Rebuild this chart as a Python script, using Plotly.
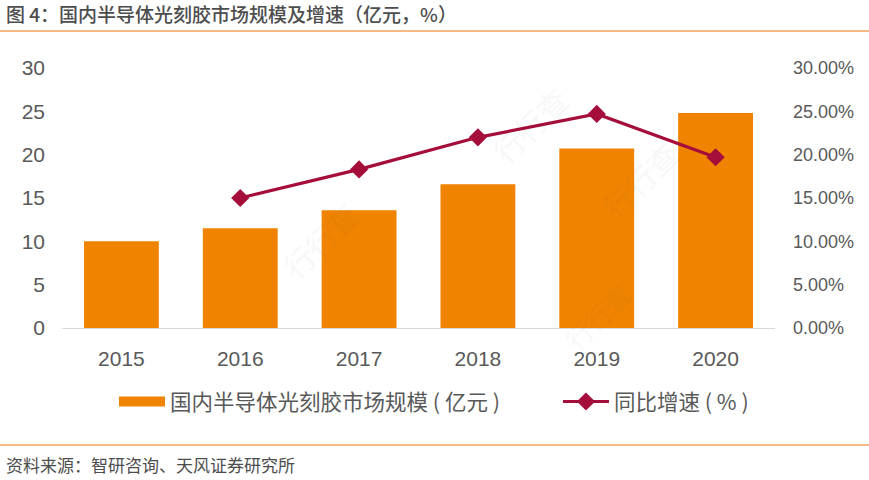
import plotly.graph_objects as go

years = ["2015", "2016", "2017", "2018", "2019", "2020"]
market_size = [10.0, 11.5, 13.6, 16.6, 20.7, 24.8]
growth = [None, 15.0, 18.3, 22.0, 24.7, 19.7]
left_ticks = [0, 5, 10, 15, 20, 25, 30]
right_ticks = [0, 5, 10, 15, 20, 25, 30]
right_labels = ["0.00%", "5.00%", "10.00%", "15.00%", "20.00%", "25.00%", "30.00%"]
bar_name = "国内半导体光刻胶市场规模 ( 亿元 )"
line_name = "同比增速 ( % )"
title = "图 4：国内半导体光刻胶市场规模及增速（亿元，%）"
source = "资料来源：智研咨询、天风证券研究所"
watermark = "行行查"

W, H = 869, 480
L, R, T, B = 62, 775, 68, 328
PW, PH = R - L, B - T
CJK = "Noto Sans CJK SC, Liberation Sans, sans-serif"
NUM = "Liberation Sans, Noto Sans CJK SC, sans-serif"
GREY = "#595959"
ORANGE = "#F08300"
CRIMSON = "#A50D3A"


def px(x):
    return (x - L) / PW


def py(y):
    return (B - y) / PH


fig = go.Figure()
fig.add_bar(x=years, y=market_size, name=bar_name, marker=dict(color=ORANGE, line=dict(width=0)),
            yaxis="y", showlegend=False)
fig.add_scatter(x=[None], y=[None], name=bar_name + "\u00a0" * 11, mode="lines", yaxis="y",
                line=dict(color=ORANGE, width=12))
fig.add_scatter(x=years, y=growth, name=line_name, mode="lines+markers", yaxis="y2",
                line=dict(color=CRIMSON, width=3.2),
                marker=dict(symbol="diamond", size=14, color=CRIMSON))

marks = [(px(x), py(y), s) for x, y, s in [(530, 75, 30), (690, 130, 30), (320, 290, 30), (640, 360, 26)]]

fig.update_layout(
    width=W, height=H, autosize=False,
    paper_bgcolor="white", plot_bgcolor="white",
    margin=dict(l=L, r=W - R, t=T, b=H - B),
    bargap=0.37,
    showlegend=True,
    legend=dict(orientation="h", x=px(434), xanchor="center", y=py(381), yanchor="top",
                font=dict(family=CJK, size=21.5, color=GREY), itemwidth=46,
                traceorder="normal"),
    xaxis=dict(type="category", showgrid=False, ticks="", showline=True, linecolor="#D9D9D9", linewidth=1,
               tickfont=dict(family=NUM, size=21, color=GREY), ticklabelstandoff=12),
    yaxis=dict(range=[0, 30], tickvals=left_ticks, showgrid=False, zeroline=False, showline=False, ticks="",
               tickfont=dict(family=NUM, size=21, color=GREY), ticklabelstandoff=16),
    yaxis2=dict(range=[0, 30], overlaying="y", side="right", tickvals=right_ticks, ticktext=right_labels,
                showgrid=False, zeroline=False, showline=False, ticks="",
                tickfont=dict(family=NUM, size=18, color=GREY), ticklabelstandoff=17),
    shapes=[
        dict(type="line", xref="paper", yref="paper", x0=px(0), x1=px(W), y0=py(31), y1=py(31),
             line=dict(color="#F4A460", width=1.5)),
        dict(type="line", xref="paper", yref="paper", x0=px(0), x1=px(W), y0=py(445), y1=py(445),
             line=dict(color="#F4A460", width=1.5)),
    ],
    annotations=[
        dict(text=title, xref="paper", yref="paper", x=px(4), y=py(13), xanchor="left", yanchor="middle",
             showarrow=False, font=dict(family=CJK, size=19, color="#4D4D4D", weight=500)),
        dict(text=source, xref="paper", yref="paper", x=px(4), y=py(464), xanchor="left", yanchor="middle",
             showarrow=False, font=dict(family=CJK, size=17, color="#4D4D4D")),
    ] + [
        dict(text=watermark, xref="paper", yref="paper", x=mx, y=my, showarrow=False, textangle=-45,
             opacity=0.04, font=dict(family=CJK, size=s, color="#555555"))
        for mx, my, s in marks
    ],
)
fig.write_html("out.html", config={"displayModeBar": False}, post_script="document.body.style.margin='0';")
